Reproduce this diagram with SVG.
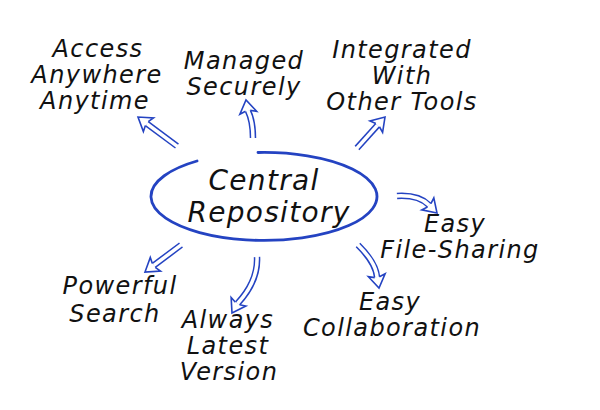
<svg xmlns="http://www.w3.org/2000/svg" xmlns:xlink="http://www.w3.org/1999/xlink" width="600" height="410" viewBox="0 0 600 410">
<style>
.lbl{font-family:"DejaVu Sans","Liberation Sans",sans-serif;font-style:italic;font-size:24px;fill:#111;text-anchor:middle;letter-spacing:1.4px}
.big{font-size:28px;letter-spacing:1.3px}
.shaft-o{fill:none;stroke:#2443c2;stroke-width:6.5;stroke-linecap:butt}
.shaft-i{fill:none;stroke:#fff;stroke-width:3.5;stroke-linecap:butt}
.head{fill:#fff;stroke:#2443c2;stroke-width:1.6;stroke-linejoin:miter}
.ring{fill:none;stroke:#2443c2;stroke-width:2.8;stroke-linecap:round}
</style>
<defs>
<path id="hd" class="head" d="M-11,-2.4 L-13,-8.5 L0,0 L-13,8.5 L-11,2.4"/>
</defs>
<rect width="600" height="410" fill="#fff"/>
<g id="connectors">
 <g id="a-access">
  <path class="shaft-o" d="M177,146 L146.8,123.6"/><path class="shaft-i" d="M178,146.8 L146.8,123.6"/>
  <use xlink:href="#hd" transform="translate(138,117) rotate(-143.4)"/>
 </g>
 <g id="a-managed">
  <path class="shaft-o" d="M253,138 C253,125 251,117 247.9,110.8"/><path class="shaft-i" d="M253,139 C253,125 251,117 247.9,110.8"/>
  <use xlink:href="#hd" transform="translate(246,100) rotate(-100)"/>
 </g>
 <g id="a-integrated">
  <path class="shaft-o" d="M357,148 L377.6,125.2"/><path class="shaft-i" d="M356.3,148.8 L377.6,125.2"/>
  <use xlink:href="#hd" transform="translate(385,117) rotate(-47.9)"/>
 </g>
 <g id="a-filesharing">
  <path class="shaft-o" d="M397,196 C412,195 422,198 429.2,205.2"/><path class="shaft-i" d="M396,196 C412,195 422,198 429.2,205.2"/>
  <use xlink:href="#hd" transform="translate(437,213) rotate(45)"/>
 </g>
 <g id="a-collab">
  <path class="shaft-o" d="M358,245 C368,255 376,265 377.1,277.2"/><path class="shaft-i" d="M357.3,244.3 C368,255 376,265 377.1,277.2"/>
  <use xlink:href="#hd" transform="translate(379,288) rotate(80)"/>
 </g>
 <g id="a-always">
  <path class="shaft-o" d="M257,257 C258,275 250,290 237.5,303.5"/><path class="shaft-i" d="M257,256 C258,275 250,290 237.5,303.5"/>
  <use xlink:href="#hd" transform="translate(232,313) rotate(120)"/>
 </g>
 <g id="a-powerful">
  <path class="shaft-o" d="M181,245 L153.8,265.4"/><path class="shaft-i" d="M181.8,244.4 L153.8,265.4"/>
  <use xlink:href="#hd" transform="translate(145,272) rotate(143.1)"/>
 </g>
</g>
<g id="center">
 <path class="ring" d="M258,152.5 A113,44 0 1,1 197,161"/>
 <text class="lbl big" x="264" y="190">Central</text>
 <text class="lbl big" x="269" y="222">Repository</text>
</g>
<g id="n-access">
 <text class="lbl" x="98" y="57">Access</text>
 <text class="lbl" x="97" y="83">Anywhere</text>
 <text class="lbl" x="95" y="109">Anytime</text>
</g>
<g id="n-managed">
 <text class="lbl" x="244" y="69">Managed</text>
 <text class="lbl" x="244" y="95">Securely</text>
</g>
<g id="n-integrated">
 <text class="lbl" x="402" y="58">Integrated</text>
 <text class="lbl" x="402" y="84">With</text>
 <text class="lbl" x="402" y="110">Other Tools</text>
</g>
<g id="n-filesharing">
 <text class="lbl" x="455" y="232">Easy</text>
 <text class="lbl" x="460" y="258">File-Sharing</text>
</g>
<g id="n-collab">
 <text class="lbl" x="390" y="310">Easy</text>
 <text class="lbl" x="392" y="336">Collaboration</text>
</g>
<g id="n-powerful">
 <text class="lbl" x="120" y="294">Powerful</text>
 <text class="lbl" x="115" y="322">Search</text>
</g>
<g id="n-always">
 <text class="lbl" x="228" y="328">Always</text>
 <text class="lbl" x="228" y="354">Latest</text>
 <text class="lbl" x="229" y="380">Version</text>
</g>
</svg>
